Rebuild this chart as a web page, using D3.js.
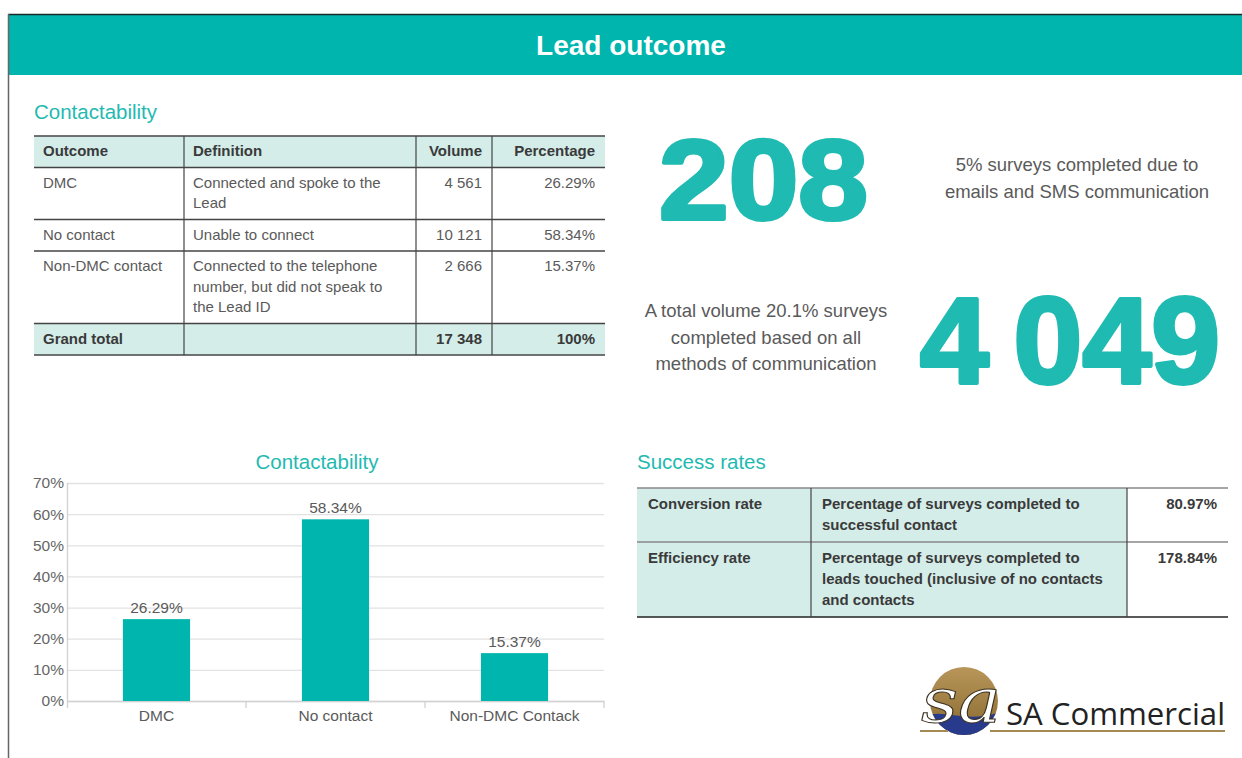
<!DOCTYPE html>
<html>
<head>
<meta charset="utf-8">
<script src="https://cdn.jsdelivr.net/npm/d3@7"></script>
<style>
    body { margin: 0; background: #fff; }
    svg { display: block; font-family: "Liberation Sans", Arial, sans-serif; }
</style>
</head>
<body>
<div id="chart"></div>
<script>
// Bar chart data
var categories = ["DMC", "No contact", "Non-DMC Contack"];
var percentages = [26.29, 58.34, 15.37];
var yTicks = [0, 10, 20, 30, 40, 50, 60, 70];

// Contactability table
var tableHeaders = ["Outcome", "Definition", "Volume", "Percentage"];
var outcomes = ["DMC", "No contact", "Non-DMC contact"];
var definitions = [
    ["Connected and spoke to the", "Lead"],
    ["Unable to connect"],
    ["Connected to the telephone", "number, but did not speak to", "the Lead ID"]
];
var volumes = ["4 561", "10 121", "2 666"];
var volumePercents = ["26.29%", "58.34%", "15.37%"];
var grandTotal = ["Grand total", "", "17 348", "100%"];

// Success rates table
var rateNames = ["Conversion rate", "Efficiency rate"];
var rateDefinitions = [
    ["Percentage of surveys completed to", "successful contact"],
    ["Percentage of surveys completed to", "leads touched (inclusive of no contacts", "and contacts"]
];
var rateValues = ["80.97%", "178.84%"];

// Key figures
var surveysBySms = "208";
var smsNote = ["5% surveys completed due to", "emails and SMS communication"];
var surveysTotal = "4\u2009049";
var totalNote = ["A total volume 20.1% surveys", "completed based on all", "methods of communication"];

var teal = "#00b5ad";
var lightTeal = "#d4ede9";
var titleTeal = "#1fbab1";
var textGrey = "#5a5a5a";

var svg = d3.select("#chart").append("svg")
    .attr("width", 1242)
    .attr("height", 758);

// Page frame and header band
svg.append("rect")
    .attr("x", 8).attr("y", 15)
    .attr("width", 1234).attr("height", 60)
    .attr("fill", teal);
svg.append("line")
    .attr("x1", 8).attr("y1", 14.5).attr("x2", 1242).attr("y2", 14.5)
    .attr("stroke", "#1a2a2a").attr("stroke-width", 1.5);
svg.append("line")
    .attr("x1", 8.5).attr("y1", 14).attr("x2", 8.5).attr("y2", 758)
    .attr("stroke", "#666").attr("stroke-width", 1.5);
svg.append("text")
    .attr("x", 631).attr("y", 55)
    .attr("text-anchor", "middle")
    .attr("font-size", "28px")
    .attr("font-weight", "bold")
    .attr("fill", "#fff")
    .text("Lead outcome");

// Section titles
function sectionTitle(x, y, label, anchor) {
    svg.append("text")
        .attr("x", x).attr("y", y)
        .attr("text-anchor", anchor || "start")
        .attr("font-size", "20.5px")
        .attr("fill", titleTeal)
        .text(label);
}
sectionTitle(34, 119, "Contactability");
sectionTitle(637, 469, "Success rates");

// Generic table drawer: column edges, rows of cells (each cell = array of lines)
function drawTable(opt) {
    var g = svg.append("g");
    var y0 = opt.top;
    opt.rows.forEach(function(r) {
        var n = d3.max(r.cells, c => c.length);
        r.top = y0;
        r.height = opt.pad + opt.lineHeight * n;
        y0 += r.height;
    });
    var bottom = y0;

    opt.rows.forEach(function(r) {
        r.cells.forEach(function(lines, ci) {
            var x0 = opt.cols[ci], x1 = opt.cols[ci + 1];
            var fill = r.fills[ci];
            if (fill) {
                g.append("rect")
                    .attr("x", x0).attr("y", r.top)
                    .attr("width", x1 - x0).attr("height", r.height)
                    .attr("fill", fill);
            }
            var right = opt.align[ci] === "end";
            g.selectAll(null)
                .data(lines)
                .enter()
                .append("text")
                .attr("x", right ? x1 - opt.padRight : x0 + opt.padLeft)
                .attr("y", (d, i) => r.top + opt.baseline + i * opt.lineHeight)
                .attr("text-anchor", right ? "end" : "start")
                .attr("font-size", "15px")
                .attr("font-weight", r.bold ? "bold" : "normal")
                .attr("fill", r.bold ? "#3a3a3a" : textGrey)
                .text(d => d);
        });
    });

    // horizontal rules
    var hLines = [opt.top].concat(opt.rows.map(r => r.top + r.height));
    g.selectAll(null)
        .data(hLines)
        .enter()
        .append("line")
        .attr("x1", opt.cols[0]).attr("x2", opt.cols[opt.cols.length - 1])
        .attr("y1", d => d).attr("y2", d => d)
        .attr("stroke", (d, i) => opt.hColors ? opt.hColors[i] : "#444")
        .attr("stroke-width", 1.3);

    // vertical rules
    g.selectAll(null)
        .data(opt.cols.slice(1, -1))
        .enter()
        .append("line")
        .attr("x1", d => d).attr("x2", d => d)
        .attr("y1", opt.top).attr("y2", bottom)
        .attr("stroke", "#444")
        .attr("stroke-width", 1.2);
}

var contactRows = [{ cells: tableHeaders.map(h => [h]), fills: [lightTeal, lightTeal, lightTeal, lightTeal], bold: true }];
outcomes.forEach(function(o, i) {
    contactRows.push({
        cells: [[o], definitions[i], [volumes[i]], [volumePercents[i]]],
        fills: [null, null, null, null],
        bold: false
    });
});
contactRows.push({ cells: grandTotal.map(t => [t]), fills: [lightTeal, lightTeal, lightTeal, lightTeal], bold: true });

drawTable({
    cols: [34, 184, 416, 492, 605],
    top: 136,
    rows: contactRows,
    align: ["start", "start", "end", "end"],
    lineHeight: 20.5,
    pad: 11,
    baseline: 20,
    padLeft: 9,
    padRight: 10
});

var rateRows = rateNames.map(function(name, i) {
    return {
        cells: [[name], rateDefinitions[i], [rateValues[i]]],
        fills: [lightTeal, lightTeal, null],
        bold: true
    };
});
drawTable({
    cols: [637, 811, 1127, 1228],
    top: 488,
    rows: rateRows,
    align: ["start", "start", "end"],
    lineHeight: 21,
    pad: 12,
    baseline: 21,
    padLeft: 11,
    padRight: 11,
    hColors: ["#888", "#888", "#222"]
});

// Key figures (thickened with a stroke of the same colour)
svg.append("text")
    .attr("x", 659).attr("y", 219)
    .attr("font-size", "114px")
    .attr("font-weight", "bold")
    .attr("fill", titleTeal)
    .attr("stroke", titleTeal)
    .attr("stroke-width", 4)
    .attr("stroke-linejoin", "round")
    .attr("textLength", 209)
    .attr("lengthAdjust", "spacingAndGlyphs")
    .text(surveysBySms);
svg.append("text")
    .attr("x", 920).attr("y", 383)
    .attr("font-size", "122px")
    .attr("font-weight", "bold")
    .attr("fill", titleTeal)
    .attr("stroke", titleTeal)
    .attr("stroke-width", 4)
    .attr("stroke-linejoin", "round")
    .attr("textLength", 300)
    .attr("lengthAdjust", "spacingAndGlyphs")
    .text(surveysTotal);

function note(cx, y0, lines) {
    svg.selectAll(null)
        .data(lines)
        .enter()
        .append("text")
        .attr("x", cx)
        .attr("y", (d, i) => y0 + i * 26.5)
        .attr("text-anchor", "middle")
        .attr("font-size", "18.5px")
        .attr("fill", textGrey)
        .text(d => d);
}
note(1077, 171, smsNote);
note(766, 317, totalNote);

// Bar chart
var x = d3.scaleBand().domain(categories).range([67, 604]);
var y = d3.scaleLinear().domain([0, 70]).range([701, 483]);

svg.append("text")
    .attr("x", 317).attr("y", 469)
    .attr("text-anchor", "middle")
    .attr("font-size", "20.5px")
    .attr("fill", titleTeal)
    .text("Contactability");

var yAxis = svg.append("g")
    .attr("transform", "translate(67,0)")
    .call(d3.axisLeft(y)
        .tickValues(yTicks)
        .tickSize(-537)
        .tickPadding(3)
        .tickFormat(d => d + "%"));
yAxis.select(".domain").remove();
yAxis.selectAll(".tick line").attr("stroke", "#e2e2e2").attr("stroke-width", 1.3);
yAxis.selectAll(".tick text")
    .attr("font-size", "15.5px")
    .attr("font-family", "Liberation Sans, Arial, sans-serif")
    .attr("fill", "#666");

// axis lines
svg.append("line")
    .attr("x1", 67.5).attr("x2", 67.5)
    .attr("y1", y(70)).attr("y2", y(0) + 7)
    .attr("stroke", "#d2d2d2").attr("stroke-width", 1.3);

var xAxis = svg.append("g")
    .attr("transform", "translate(0," + y(0) + ")")
    .call(d3.axisBottom(x).tickSize(0).tickPadding(9));
xAxis.select(".domain").attr("stroke", "#d2d2d2").attr("stroke-width", 1.3);
xAxis.selectAll(".tick text")
    .attr("font-size", "15.5px")
    .attr("font-family", "Liberation Sans, Arial, sans-serif")
    .attr("fill", textGrey);

svg.append("g").selectAll("line")
    .data(categories.slice(1).concat([null]))
    .enter()
    .append("line")
    .attr("x1", d => d ? x(d) : x.range()[1])
    .attr("x2", d => d ? x(d) : x.range()[1])
    .attr("y1", y(0)).attr("y2", y(0) + 7)
    .attr("stroke", "#d2d2d2").attr("stroke-width", 1.3);

var barW = x.bandwidth() * 0.375;
svg.selectAll(".bar")
    .data(percentages)
    .enter()
    .append("rect")
    .attr("class", "bar")
    .attr("x", (d, i) => x(categories[i]) + (x.bandwidth() - barW) / 2)
    .attr("y", d => y(d))
    .attr("width", barW)
    .attr("height", d => y(0) - y(d))
    .attr("fill", teal);

svg.selectAll(".bar-label")
    .data(percentages)
    .enter()
    .append("text")
    .attr("class", "bar-label")
    .attr("x", (d, i) => x(categories[i]) + x.bandwidth() / 2)
    .attr("y", d => y(d) - 6)
    .attr("text-anchor", "middle")
    .attr("font-size", "15.5px")
    .attr("fill", textGrey)
    .text(d => d.toFixed(2) + "%");

// Logo
var logo = svg.append("g");
var defs = svg.append("defs");
var grad = defs.append("linearGradient")
    .attr("id", "gold")
    .attr("x1", 0).attr("y1", 0).attr("x2", 0).attr("y2", 1);
grad.append("stop").attr("offset", "0%").attr("stop-color", "#b8965a");
grad.append("stop").attr("offset", "100%").attr("stop-color", "#8a6a30");
defs.append("clipPath").attr("id", "logoClip")
    .append("circle").attr("cx", 964).attr("cy", 701).attr("r", 34);

logo.append("circle")
    .attr("cx", 964).attr("cy", 701).attr("r", 34)
    .attr("fill", "url(#gold)");
logo.append("path")
    .attr("clip-path", "url(#logoClip)")
    .attr("d", "M925,716 C945,708 965,724 1000,712 L1000,740 L925,740 Z")
    .attr("fill", "#283a8c");
logo.append("text")
    .attr("x", 921).attr("y", 722)
    .attr("font-family", "DejaVu Serif, serif")
    .attr("font-style", "italic")
    .attr("font-size", "62px")
    .attr("fill", "#fff")
    .attr("stroke", "#3a3020")
    .attr("stroke-width", 1)
    .attr("textLength", 80)
    .attr("lengthAdjust", "spacingAndGlyphs")
    .text("sa");
logo.append("line")
    .attr("x1", 920).attr("x2", 948).attr("y1", 731).attr("y2", 731)
    .attr("stroke", "#a58a55").attr("stroke-width", 2);
logo.append("line")
    .attr("x1", 990).attr("x2", 1225).attr("y1", 731).attr("y2", 731)
    .attr("stroke", "#a58a55").attr("stroke-width", 2);
logo.append("text")
    .attr("x", 1006).attr("y", 725)
    .attr("font-family", "Open Sans, sans-serif")
    .attr("font-size", "31px")
    .attr("fill", "#222")
    .attr("textLength", 219)
    .attr("lengthAdjust", "spacingAndGlyphs")
    .text("SA Commercial");
</script>
</body>
</html>
